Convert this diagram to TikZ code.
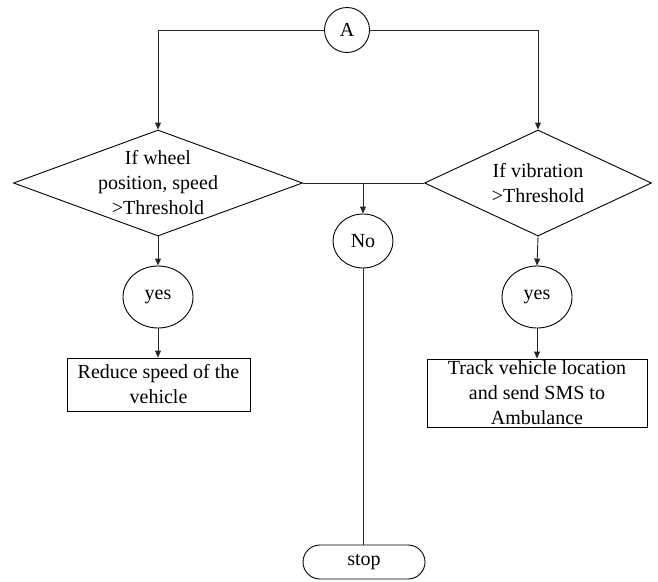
\documentclass[tikz,border=0pt]{standalone}
\usepackage{fontspec}
\setmainfont{Liberation Serif}
\usetikzlibrary{shapes.geometric,shapes.misc,arrows.meta}
\begin{document}
\begin{tikzpicture}[x=1pt,y=1pt,
  every node/.style={font=\fontsize{20}{25}\selectfont, line width=0.9pt, draw, inner sep=0pt},
  line/.style={line width=0.9pt, draw=black!85},
  arr/.style={line, -{Triangle[length=7pt,width=6pt]}},
  dia/.style={diamond, minimum width=#1, minimum height=106},
  procbox/.style={rectangle, align=center}
]
\useasboundingbox (0,0) rectangle (658,-581);
\node[circle, minimum size=45] (A) at (347,-30) {A};
\node[dia=289, label={[draw=none,align=center]center:{If wheel\\position, speed\\>Threshold}}] (LD) at (158,-183) {};
\node[dia=227, label={[draw=none,align=center]center:{If vibration\\>Threshold}}] (RD) at (538,-183) {};
\node[ellipse, minimum width=70, minimum height=62] (YL) at (158,-297) {yes};
\node[ellipse, minimum width=70, minimum height=62] (YR) at (537,-297) {yes};
\node[ellipse, minimum width=60, minimum height=54] (NO) at (363,-241) {No};
\node[procbox, minimum width=183, minimum height=53] (BL) at (158.5,-384.5) {Reduce speed of the\\vehicle};
\node[procbox, minimum width=220, minimum height=68] (BR) at (537,-393) {Track vehicle location\\and send SMS to\\Ambulance};
\node[rounded rectangle, minimum width=122, minimum height=34] (ST) at (364,-562) {stop};
\coordinate (J) at (363,-183);
\draw[arr] (A.west) -| (LD.north);
\draw[arr] (A.east) -| (RD.north);
\draw[line] (LD.east) -- (RD.west);
\draw[arr] (J) -- (NO.north);
\draw[line] (NO.south) -- (NO.south |- ST.north);
\draw[arr] (LD.south) -- (YL.north);
\draw[arr] (YL.south) -- (YL.south |- BL.north);
\draw[arr] (RD.south) -- (YR.north);
\draw[arr] (YR.south) -- (YR.south |- BR.north);
\end{tikzpicture}
\end{document}
